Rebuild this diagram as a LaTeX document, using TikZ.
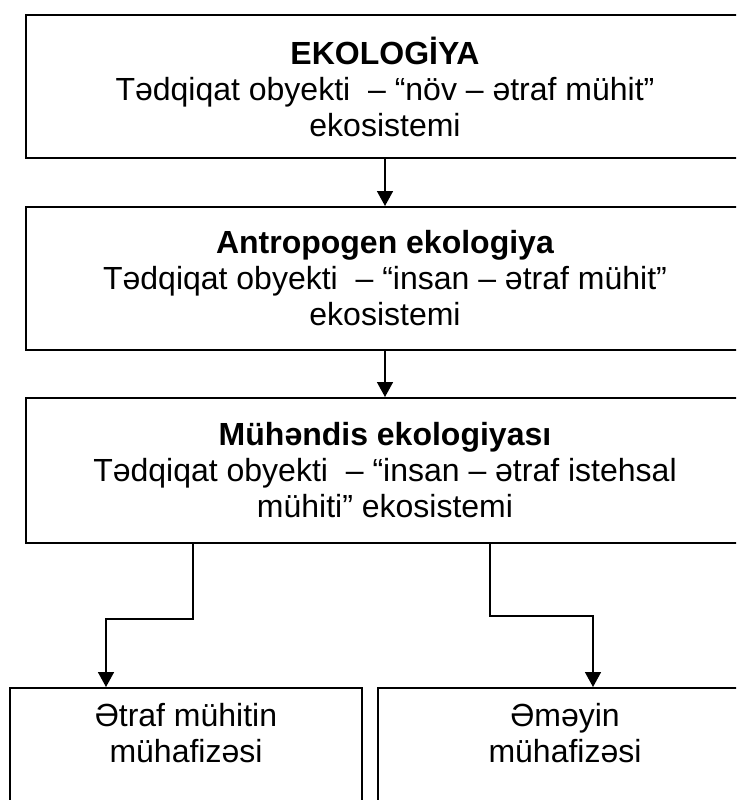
\documentclass[tikz,border=0pt]{standalone}
\usepackage{fontspec}
\setmainfont{Liberation Sans}
\usetikzlibrary{arrows.meta}

\begin{document}
\begin{tikzpicture}[x=1pt,y=-1pt,
    box/.style={draw, line width=2pt, inner sep=0pt, minimum width=718pt, align=center},
    conn/.style={line width=1.6pt, -{Triangle[length=15pt,width=16pt]}},
    txt/.style={align=center, inner sep=0pt}]
        \pgfmathsetmacro{\cx}{385}
        \pgfmathsetmacro{\bh}{143}
        \clip (0,0) rectangle (736,800);
        \fontsize{32}{36}\selectfont
        \node[box, minimum height=\bh] (eko) at (\cx,86.5)
            {\textbf{EKOLOGİYA}\\Tədqiqat obyekti \ – “növ – ətraf mühit”\\ekosistemi};
        \node[box, minimum height=\bh] (antro) at (\cx,278.5)
            {\textbf{Antropogen ekologiya}\\Tədqiqat obyekti \ – “insan – ətraf mühit”\\ekosistemi};
        \node[box, minimum height=145] (muhend) at (\cx,470.5)
            {\textbf{Mühəndis ekologiyası}\\Tədqiqat obyekti \ – “insan – ətraf istehsal\\mühiti” ekosistemi};
        % lower boxes run past the bottom edge
        \node[box, minimum width=352, minimum height=200, anchor=north] (etraf) at (186,687) {};
        \node[box, minimum width=374, minimum height=200, anchor=north] (emek) at (565,687) {};
        \node[txt] (etrafT) at (186,733) {Ətraf mühitin\\mühafizəsi};
        \node[txt] (emekT) at (565,733) {Əməyin\\mühafizəsi};
        \coordinate (k1) at (193,619);
        \coordinate (k2) at (106,619);
        \coordinate (r1) at (490,616);
        \coordinate (r2) at (593,616);
        \draw[conn] (eko) -- (antro);
        \draw[conn] (antro) -- (muhend);
        \draw[conn] (muhend.south -| k1) -- (k1) -- (k2) -- (k2 |- etraf.north);
        \draw[conn] (muhend.south -| r1) -- (r1) -- (r2) -- (r2 |- emek.north);
    \end{tikzpicture}
\end{document}
